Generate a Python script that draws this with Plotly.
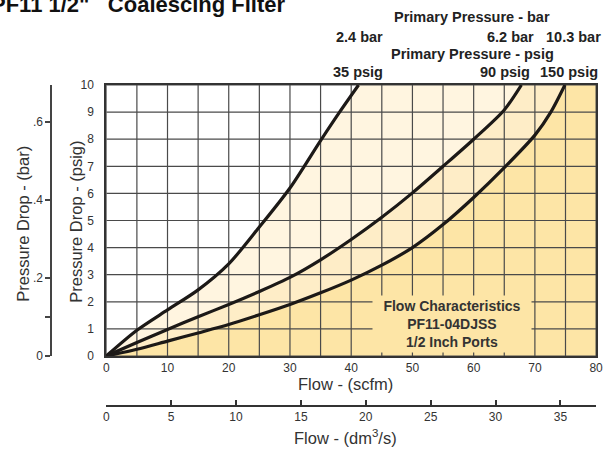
import plotly.graph_objects as go

# ---------------- data ----------------
# 35 psig (2.4 bar) curve
FLOW_35 = [0, 5, 10, 15, 20, 25, 30, 35, 38.1, 41.2]
DROP_35 = [0, 0.95, 1.7, 2.44, 3.4, 4.76, 6.2, 7.95, 9.0, 10.0]
# 90 psig (6.2 bar) curve
FLOW_90 = [0, 5, 10, 15, 20, 25, 30, 35, 40, 45, 50, 55, 60, 65, 67.8]
DROP_90 = [0, 0.5, 0.98, 1.45, 1.9, 2.38, 2.9, 3.55, 4.3, 5.12, 6.02, 7.0, 8.0, 9.08, 10.0]
# 150 psig (10.3 bar) curve
FLOW_150 = [0, 5, 10, 15, 20, 25, 30, 35, 40, 45, 50, 55, 60, 65, 70, 72.6, 74.9]
DROP_150 = [0, 0.25, 0.55, 0.85, 1.16, 1.52, 1.9, 2.33, 2.8, 3.35, 4.0, 4.85, 5.85, 6.95, 8.15, 9.0, 10.0]

X_MAX, Y_MAX = 80, 10
X_TICKS = list(range(0, 81, 10))
X_GRID = list(range(0, 81, 5))
Y_TICKS = list(range(0, 11))
BAR_TICKS = [0, 0.2, 0.4, 0.6]
BAR_LABELS = ["0", ".2", ".4", ".6"]
BAR_MINOR = [0.1]
DM3_TICKS = [0, 5, 10, 15, 20, 25, 30, 35]
PSI_TO_BAR = 0.0689476
SCFM_TO_DM3S = 0.4719

TOP_BAR_LABELS = ["2.4 bar", "6.2 bar", "10.3 bar"]
TOP_PSIG_LABELS = ["35 psig", "90 psig", "150 psig"]

# ---------------- styling helpers ----------------
W, H = 610, 453
MT, MB = 85, 47
PH = H - MT - MB


def px(p):
    return p / W


def py(p):
    return (H - MB - p) / PH


FONT = "Liberation Sans, Arial, Helvetica, sans-serif"
C_LOW = "#FDE5A6"
C_MID = "#FEEDC7"
C_HIGH = "#FFF5E0"
GRID = "#4a4a4a"
INK = "#222222"

fig = go.Figure()

# fills (stacked from the highest pressure curve)
fill_specs = [(FLOW_150, DROP_150, C_LOW, "tozeroy"),
              (FLOW_90, DROP_90, C_MID, "tonexty"),
              (FLOW_35, DROP_35, C_HIGH, "tonexty")]
for fx, fy, col, mode in fill_specs:
    fig.add_trace(go.Scatter(x=fx + [X_MAX], y=fy + [Y_MAX], mode="lines",
                             line=dict(width=0, color=col), fill=mode,
                             fillcolor=col, hoverinfo="skip", showlegend=False))

# grid drawn over fills
gx, gy = [], []
for v in X_GRID:
    gx += [v, v, None]
    gy += [0, Y_MAX, None]
for h in Y_TICKS:
    gx += [0, X_MAX, None]
    gy += [h, h, None]
fig.add_trace(go.Scatter(x=gx, y=gy, mode="lines", line=dict(color=GRID, width=1.2),
                         hoverinfo="skip", showlegend=False))

# curves
for fx, fy in [(FLOW_35, DROP_35), (FLOW_90, DROP_90), (FLOW_150, DROP_150)]:
    fig.add_trace(go.Scatter(x=fx, y=fy, mode="lines",
                             line=dict(color="#1c1917", width=3.2, shape="spline", smoothing=0.8),
                             showlegend=False))

# invisible traces carrying the secondary unit axes
fig.add_trace(go.Scatter(x=FLOW_35, y=[d * PSI_TO_BAR for d in DROP_35], yaxis="y2",
                         mode="lines", line=dict(width=0), opacity=0,
                         hoverinfo="skip", showlegend=False))
fig.add_trace(go.Scatter(x=[f * SCFM_TO_DM3S for f in FLOW_35], y=DROP_35, xaxis="x2",
                         mode="lines", line=dict(width=0), opacity=0,
                         hoverinfo="skip", showlegend=False))

y_dom0 = py(356)
bar_top = (356 - 85) / 390.0

fig.update_layout(
    width=W, height=H,
    margin=dict(l=0, r=0, t=MT, b=MB),
    paper_bgcolor="white", plot_bgcolor="white",
    font=dict(family=FONT, color="#333333", size=12),
    xaxis=dict(domain=[px(105), px(603)], range=[0, X_MAX], tickvals=X_TICKS,
               showgrid=False, zeroline=False, showline=True, mirror=True,
               linecolor="#333333", linewidth=2, ticks="",
               tickfont=dict(size=12, color="#333333")),
    yaxis=dict(domain=[y_dom0, 1], range=[0, Y_MAX], tickvals=Y_TICKS,
               showgrid=False, zeroline=False, showline=True, mirror=True,
               linecolor="#333333", linewidth=2, ticks="", ticklabelstandoff=8,
               tickfont=dict(size=12, color="#333333")),
    yaxis2=dict(overlaying="y", anchor="free", position=px(49), side="left",
                range=[0, bar_top], tickvals=BAR_TICKS, ticktext=BAR_LABELS,
                ticks="outside", ticklen=5, tickcolor="#444444", tickwidth=1.5,
                minor=dict(tickvals=BAR_MINOR, ticks="outside", ticklen=5,
                           tickcolor="#444444", tickwidth=1.5, showgrid=False),
                showline=True, linecolor="#444444", linewidth=1.5,
                showgrid=False, zeroline=False,
                tickfont=dict(size=12, color="#333333")),
    xaxis2=dict(overlaying="x", anchor="free", position=0, side="bottom",
                range=[0, X_MAX * SCFM_TO_DM3S], tickvals=DM3_TICKS,
                ticks="inside", ticklen=5, tickcolor="#333333", tickwidth=1.5,
                showline=True, linecolor="#333333", linewidth=1.5,
                showgrid=False, zeroline=False,
                tickfont=dict(size=12, color="#333333")),
)

ann = []


def add(text, x, y, size=14.5, bold=True, color=INK, angle=0, xanchor="center", **kw):
    ann.append(dict(text=f"<b>{text}</b>" if bold else text, x=px(x), y=py(y),
                    xref="paper", yref="paper", showarrow=False, textangle=angle,
                    xanchor=xanchor, yanchor="middle",
                    font=dict(family=FONT, size=size, color=color), **kw))


add('PF11 1/2"&nbsp;&nbsp; Coalescing Filter', 290, 4, size=22, color="#111111", xanchor="right")
add("Primary Pressure - bar", 477, 17)
add("Primary Pressure - psig", 477, 54)
for t, x in zip(TOP_BAR_LABELS, [362, 516, 580]):
    add(t, x, 37)
for t, x in zip(TOP_PSIG_LABELS, [361, 510, 575]):
    add(t, x, 72)

add("Flow - (scfm)", 348, 384, size=16.5, bold=False, color="#333333")
add("Flow - (dm<sup>3</sup>/s)", 348, 437, size=16.5, bold=False, color="#333333")
add("n", 376, 456, size=9, bold=False, color="#333333")
add("Pressure Drop - (psig)", 74, 222, size=16.5, bold=False, color="#333333", angle=-90)
add("Pressure Drop - (bar)", 20, 224, size=16.5, bold=False, color="#333333", angle=-90)

ann.append(dict(text="<b>Flow Characteristics</b><br><b>PF11-04DJSS</b><br><b>1/2 Inch Ports</b>",
                x=px(456), y=py(323.5), xref="paper", yref="paper", showarrow=False,
                xanchor="center", yanchor="middle", width=158, height=56,
                bgcolor=C_LOW, borderpad=0,
                font=dict(family=FONT, size=14, color="#333333")))

fig.update_layout(annotations=ann)

fig.write_html("out.html", post_script="document.body.style.margin='0px';",
               config={"displayModeBar": False})
